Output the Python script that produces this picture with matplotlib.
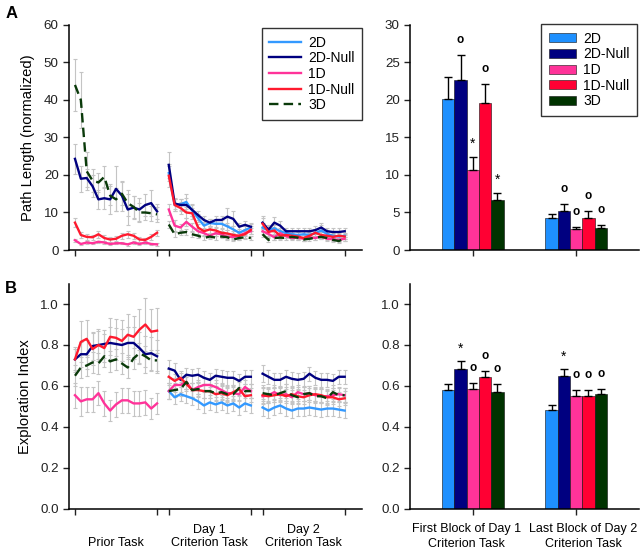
import numpy as np
import matplotlib.pyplot as plt
from matplotlib.lines import Line2D
from matplotlib.patches import Patch

plt.rcParams.update({"font.family": "Liberation Sans", "font.size": 9})

GROUPS = ["2D", "2D-Null", "1D", "1D-Null", "3D"]
LINE_COLORS = ["#3399ff", "#000080", "#ff3399", "#ff1a2e", "#0a3a0a"]
BAR_COLORS = ["#1e90ff", "#000080", "#ff3399", "#ff0033", "#003300"]

# ---- Panel A, line data (path length), 15 blocks per task ----
PATH_PRIOR = {
    "2D-Null": [24.3, 19, 19.2, 17, 13.5, 13.8, 13.5, 16.3, 14.5, 10.8, 11.3, 10.8, 12, 12.5, 10.3],
    "1D": [2.6, 1.6, 2.0, 1.8, 2.2, 2.0, 1.6, 1.8, 1.8, 1.5, 2.0, 1.6, 2.0, 1.6, 1.5],
    "1D-Null": [7.3, 4.0, 3.5, 3.4, 4.2, 3.2, 2.8, 3.0, 3.8, 4.2, 3.8, 2.8, 2.7, 3.5, 4.6],
    "3D": [44, 40, 21, 18.5, 18, 19.5, 14.5, 13.5, 15, 12.5, 11.5, 10, 10, 9.8, 9.5],
}
PATH_PRIOR_ERR = {
    "2D-Null": [4, 3.5, 2.5, 3, 2.5, 3, 4, 6, 4, 4, 3, 3, 3, 3.5, 2],
    "1D": [0.4, 0.3, 0.3, 0.3, 0.3, 0.3, 0.3, 0.3, 0.3, 0.3, 0.3, 0.3, 0.3, 0.3, 0.3],
    "1D-Null": [1.2, 0.8, 0.7, 0.7, 0.9, 0.7, 0.6, 0.7, 0.8, 0.9, 0.8, 0.6, 0.5, 0.7, 0.8],
    "3D": [7, 7.5, 5, 3, 2.5, 3, 2.5, 3, 3, 3.5, 3, 2.5, 2, 2, 2],
}
PATH_DAY1 = {
    "2D": [20.5, 12.0, 12.2, 12.8, 10.5, 8.5, 6.5, 7.2, 7.0, 7.0, 6.3, 5.5, 4.6, 5.3, 6.0],
    "2D-Null": [22.7, 12.4, 12, 12, 10.7, 9.3, 8, 7.3, 8, 8, 8.9, 8.3, 6.2, 6.7, 6.2],
    "1D": [10.8, 6.5, 6.0, 7.5, 6.2, 5.0, 4.5, 3.8, 4.5, 4.2, 3.5, 3.5, 3.8, 4.5, 5.0],
    "1D-Null": [19.8, 12, 11.2, 10, 9.8, 6.0, 5.0, 5.5, 5.2, 4.6, 4.4, 4.0, 3.8, 4.2, 5.4],
    "3D": [6.8, 4.2, 4.6, 4.8, 4.2, 3.8, 3.2, 3.6, 3.3, 3.6, 3.4, 2.8, 3.2, 3.4, 3.2],
}
PATH_DAY1_ERR = {
    "2D": [2, 1.5, 1.5, 2, 1.5, 1, 1, 1, 1, 1, 1, 1, 1, 1, 1],
    "2D-Null": [3.5, 1.5, 1.5, 1.8, 1.5, 1.2, 1, 1, 1, 1, 2.2, 2, 1, 1, 1],
    "1D": [1.5, 1.5, 1, 1, 1, 1, 0.8, 0.8, 0.8, 0.8, 0.8, 0.8, 0.8, 0.8, 0.8],
    "1D-Null": [3, 1.5, 1.5, 1.5, 1.5, 1, 1, 1, 1, 1, 1, 1, 1, 1, 1],
    "3D": [1, 0.7, 0.7, 0.7, 0.6, 0.6, 0.5, 0.5, 0.5, 0.5, 0.5, 0.5, 0.5, 0.5, 0.5],
}
PATH_DAY2 = {
    "2D": [6.0, 5.2, 5.8, 5.0, 4.5, 4.2, 4.0, 4.2, 4.0, 4.5, 5.2, 4.3, 3.8, 3.6, 3.8],
    "2D-Null": [7.3, 5.4, 7.3, 6.5, 5.0, 5.0, 5.0, 5.0, 5.0, 5.3, 6.0, 5.0, 4.8, 4.8, 5.0],
    "1D": [5.0, 4.3, 3.4, 4.5, 3.7, 3.2, 3.3, 3.0, 3.4, 3.2, 3.6, 3.0, 2.9, 2.7, 3.0],
    "1D-Null": [7.0, 4.8, 5.2, 3.8, 4.0, 3.8, 3.6, 3.2, 3.8, 4.6, 4.0, 3.8, 3.5, 3.8, 3.6],
    "3D": [4.2, 2.7, 3.2, 3.3, 3.2, 3.5, 3.3, 2.8, 3.0, 3.3, 3.5, 3.2, 2.7, 2.4, 3.0],
}
PATH_DAY2_ERR = {
    "2D": [1.2, 1, 1, 1, 0.8, 0.8, 0.8, 0.8, 0.8, 1, 1.5, 1, 0.8, 0.8, 0.8],
    "2D-Null": [1.8, 1.2, 1.5, 1.2, 1, 1, 1, 1, 1, 1, 1.2, 1, 1, 1, 1],
    "1D": [0.8, 0.7, 0.6, 0.7, 0.6, 0.5, 0.5, 0.5, 0.5, 0.5, 0.6, 0.5, 0.5, 0.5, 0.5],
    "1D-Null": [1.5, 1, 1, 0.8, 0.8, 0.8, 0.7, 0.7, 0.8, 1, 0.8, 0.8, 0.7, 0.7, 0.7],
    "3D": [0.8, 0.5, 0.5, 0.5, 0.5, 0.5, 0.5, 0.5, 0.5, 0.5, 0.5, 0.5, 0.5, 0.5, 0.5],
}

# ---- Panel B, line data (exploration index) ----
EXPL_PRIOR = {
    "2D-Null": [0.73, 0.755, 0.755, 0.795, 0.80, 0.805, 0.81, 0.805, 0.80, 0.81, 0.81, 0.785, 0.755, 0.76, 0.745],
    "1D": [0.555, 0.525, 0.535, 0.535, 0.565, 0.515, 0.48, 0.51, 0.53, 0.53, 0.515, 0.515, 0.52, 0.49, 0.515],
    "1D-Null": [0.73, 0.815, 0.83, 0.78, 0.80, 0.785, 0.84, 0.835, 0.82, 0.85, 0.84, 0.875, 0.90, 0.865, 0.87],
    "3D": [0.65, 0.69, 0.70, 0.715, 0.71, 0.745, 0.72, 0.73, 0.71, 0.69, 0.735, 0.76, 0.745, 0.725, 0.725],
}
EXPL_PRIOR_ERR = {
    "2D-Null": [0.05, 0.06, 0.07, 0.07, 0.07, 0.07, 0.08, 0.08, 0.08, 0.08, 0.08, 0.08, 0.09, 0.08, 0.08],
    "1D": [0.06, 0.07, 0.06, 0.06, 0.06, 0.06, 0.05, 0.06, 0.06, 0.06, 0.06, 0.06, 0.06, 0.05, 0.05],
    "1D-Null": [0.06, 0.10, 0.09, 0.08, 0.08, 0.07, 0.09, 0.09, 0.10, 0.10, 0.10, 0.10, 0.13, 0.11, 0.11],
    "3D": [0.05, 0.05, 0.05, 0.05, 0.05, 0.05, 0.05, 0.05, 0.05, 0.05, 0.05, 0.05, 0.05, 0.05, 0.05],
}
EXPL_DAY1 = {
    "2D": [0.575, 0.545, 0.56, 0.55, 0.54, 0.525, 0.505, 0.52, 0.51, 0.52, 0.505, 0.515, 0.495, 0.515, 0.505],
    "2D-Null": [0.685, 0.675, 0.63, 0.655, 0.65, 0.655, 0.64, 0.63, 0.65, 0.645, 0.64, 0.64, 0.625, 0.645, 0.645],
    "1D": [0.575, 0.605, 0.605, 0.62, 0.58, 0.595, 0.605, 0.605, 0.595, 0.58, 0.565, 0.565, 0.56, 0.595, 0.575],
    "1D-Null": [0.645, 0.625, 0.64, 0.61, 0.58, 0.58, 0.575, 0.575, 0.56, 0.565, 0.555, 0.57, 0.585, 0.55, 0.555],
    "3D": [0.575, 0.58, 0.585, 0.62, 0.58, 0.585, 0.575, 0.575, 0.565, 0.57, 0.56, 0.56, 0.59, 0.575, 0.575],
}
EXPL_DAY2 = {
    "2D": [0.495, 0.48, 0.495, 0.505, 0.49, 0.48, 0.49, 0.49, 0.495, 0.49, 0.485, 0.49, 0.49, 0.485, 0.48],
    "2D-Null": [0.66, 0.645, 0.63, 0.63, 0.645, 0.635, 0.63, 0.635, 0.66, 0.64, 0.63, 0.63, 0.625, 0.645, 0.645],
    "1D": [0.55, 0.555, 0.57, 0.555, 0.56, 0.545, 0.57, 0.56, 0.565, 0.555, 0.55, 0.55, 0.555, 0.56, 0.555],
    "1D-Null": [0.555, 0.55, 0.555, 0.56, 0.55, 0.56, 0.55, 0.545, 0.555, 0.56, 0.555, 0.545, 0.545, 0.535, 0.54],
    "3D": [0.565, 0.56, 0.555, 0.565, 0.575, 0.555, 0.545, 0.56, 0.565, 0.55, 0.55, 0.54, 0.57, 0.555, 0.555],
}
EXPL_DAY_ERR = [0.04, 0.035, 0.035, 0.035, 0.035, 0.035, 0.035, 0.035, 0.035, 0.035, 0.035, 0.035, 0.035, 0.035, 0.035]

# ---- Bar data ----
PATH_BAR_FIRST = [20.1, 22.6, 10.6, 19.6, 6.6]
PATH_BAR_FIRST_ERR = [3.0, 3.4, 1.8, 2.5, 1.0]
PATH_BAR_LAST = [4.3, 5.2, 2.8, 4.3, 3.0]
PATH_BAR_LAST_ERR = [0.5, 0.9, 0.3, 0.9, 0.3]
PATH_MARKS_FIRST = ["", "o", "*", "o", "*"]
PATH_MARKS_LAST = ["", "o", "o", "o", "o"]

EXPL_BAR_FIRST = [0.58, 0.683, 0.584, 0.646, 0.572]
EXPL_BAR_FIRST_ERR = [0.028, 0.039, 0.032, 0.027, 0.039]
EXPL_BAR_LAST = [0.483, 0.649, 0.55, 0.55, 0.561]
EXPL_BAR_LAST_ERR = [0.024, 0.032, 0.03, 0.03, 0.025]
EXPL_MARKS_FIRST = ["", "*", "o", "o", "o"]
EXPL_MARKS_LAST = ["", "*", "o", "o", "o"]

BAR_XLABELS = ["First Block of Day 1\nCriterion Task", "Last Block of Day 2\nCriterion Task"]
TASK_LABELS = ["\nPrior Task", "Day 1\nCriterion Task", "Day 2\nCriterion Task"]
SEG_START = [0, 16, 32]
NBLK = 15

fig = plt.figure(figsize=(6.4, 5.49), dpi=100)
axA = fig.add_axes([0.108, 0.5446, 0.458, 0.41])
axA2 = fig.add_axes([0.641, 0.5446, 0.357, 0.41])
axB = fig.add_axes([0.108, 0.0729, 0.458, 0.4107])
axB2 = fig.add_axes([0.641, 0.0729, 0.357, 0.4107])


def style(ax):
    ax.spines[["top", "right"]].set_visible(False)
    ax.spines[["left", "bottom"]].set_linewidth(1.1)
    ax.tick_params(direction="out", length=4, width=1, labelsize=9.6, colors="#222222")


def draw_lines(ax, segments, errors):
    for seg, errs, start in zip(segments, errors, SEG_START):
        x = np.arange(start, start + NBLK)
        for name, color in zip(GROUPS, LINE_COLORS):
            if name not in seg:
                continue
            e = errs[name] if isinstance(errs, dict) else errs
            ax.errorbar(x, seg[name], yerr=e, fmt="none", ecolor="#c4c4c4",
                        elinewidth=0.8, capsize=1.5, capthick=0.8, zorder=1)
        for name, color in zip(GROUPS, LINE_COLORS):
            if name not in seg:
                continue
            ls = (0, (4, 2.2)) if name == "3D" else "-"
            ax.plot(x, seg[name], color=color, lw=1.7, ls=ls, zorder=2)
    ax.set_xlim(-1, 49)
    ax.set_xticks([0, 14, 16, 30, 32, 46])
    ax.set_xticklabels([])
    style(ax)


def draw_bars(ax, first, first_err, last, last_err, marks_first, marks_last, off):
    w = 0.119
    for g, (vals, errs, marks) in enumerate([(first, first_err, marks_first),
                                             (last, last_err, marks_last)]):
        xs = g + (np.arange(5) - 2) * w
        ax.bar(xs, vals, width=w, color=BAR_COLORS, edgecolor="#111111", linewidth=0.4, zorder=2)
        ax.errorbar(xs, vals, yerr=[np.zeros(5), errs], fmt="none", ecolor="black",
                    elinewidth=1, capsize=3, capthick=1, zorder=3)
        for xi, v, e, m in zip(xs, vals, errs, marks):
            if m == "o":
                ax.text(xi, v + e + off, "o", ha="center", va="center", fontsize=8.5, fontweight="bold")
            elif m == "*":
                ax.text(xi, v + e + off * 0.85, "*", ha="center", va="center", fontsize=10)
    ax.set_xlim(-0.606, 1.606)
    ax.set_xticks([0, 1])
    ax.set_xticklabels([])
    style(ax)


draw_lines(axA, [PATH_PRIOR, PATH_DAY1, PATH_DAY2], [PATH_PRIOR_ERR, PATH_DAY1_ERR, PATH_DAY2_ERR])
axA.set_ylim(0, 60)
axA.set_yticks(range(0, 61, 10))
axA.set_ylabel("Path Length (normalized)", fontsize=10.6, labelpad=6)

draw_lines(axB, [EXPL_PRIOR, EXPL_DAY1, EXPL_DAY2], [EXPL_PRIOR_ERR, EXPL_DAY_ERR, EXPL_DAY_ERR])
axB.set_ylim(0, 1.1)
axB.set_yticks(np.arange(0, 1.01, 0.2))
axB.set_yticklabels([f"{t:.1f}" for t in np.arange(0, 1.01, 0.2)])
axB.set_ylabel("Exploration Index", fontsize=10.6, labelpad=6)
for lab, start in zip(TASK_LABELS, SEG_START):
    axB.text(start + 7, -0.072, lab, ha="center", va="top", fontsize=9, linespacing=1.12)

draw_bars(axA2, PATH_BAR_FIRST, PATH_BAR_FIRST_ERR, PATH_BAR_LAST, PATH_BAR_LAST_ERR,
          PATH_MARKS_FIRST, PATH_MARKS_LAST, 2.0)
axA2.set_ylim(0, 30)
axA2.set_yticks(range(0, 31, 5))

draw_bars(axB2, EXPL_BAR_FIRST, EXPL_BAR_FIRST_ERR, EXPL_BAR_LAST, EXPL_BAR_LAST_ERR,
          EXPL_MARKS_FIRST, EXPL_MARKS_LAST, 0.072)
axB2.set_ylim(0, 1.1)
axB2.set_yticks(np.arange(0, 1.01, 0.2))
axB2.set_yticklabels([f"{t:.1f}" for t in np.arange(0, 1.01, 0.2)])
for gx, lab in zip([-0.058, 1.067], BAR_XLABELS):
    axB2.text(gx, -0.068, lab, ha="center", va="top", fontsize=9, linespacing=1.3)

line_handles = [Line2D([], [], color=c, lw=1.7, ls=(0, (4, 2.2)) if n == "3D" else "-")
                for n, c in zip(GROUPS, LINE_COLORS)]
fig.legend(line_handles, GROUPS, loc="upper right", bbox_to_anchor=(0.566, 0.949),
           frameon=True, fancybox=False, edgecolor="black", fontsize=10, handlelength=2.3,
           labelspacing=0.12, borderpad=0.55, handletextpad=0.5,
           borderaxespad=0).get_frame().set_linewidth(1.0)

bar_handles = [Patch(facecolor=c, edgecolor="#111111", linewidth=0.4) for c in BAR_COLORS]
fig.legend(bar_handles, GROUPS, loc="upper right", bbox_to_anchor=(0.996, 0.956),
           frameon=True, fancybox=False, edgecolor="black", fontsize=10, handlelength=2.0,
           handleheight=0.6, labelspacing=0.12, borderpad=0.55, handletextpad=0.5,
           borderaxespad=0).get_frame().set_linewidth(1.0)

fig.text(0.008, 0.975, "A", fontsize=12, fontweight="bold", va="center")
fig.text(0.008, 0.475, "B", fontsize=12, fontweight="bold", va="center")

fig.savefig("out.png", dpi=100)
